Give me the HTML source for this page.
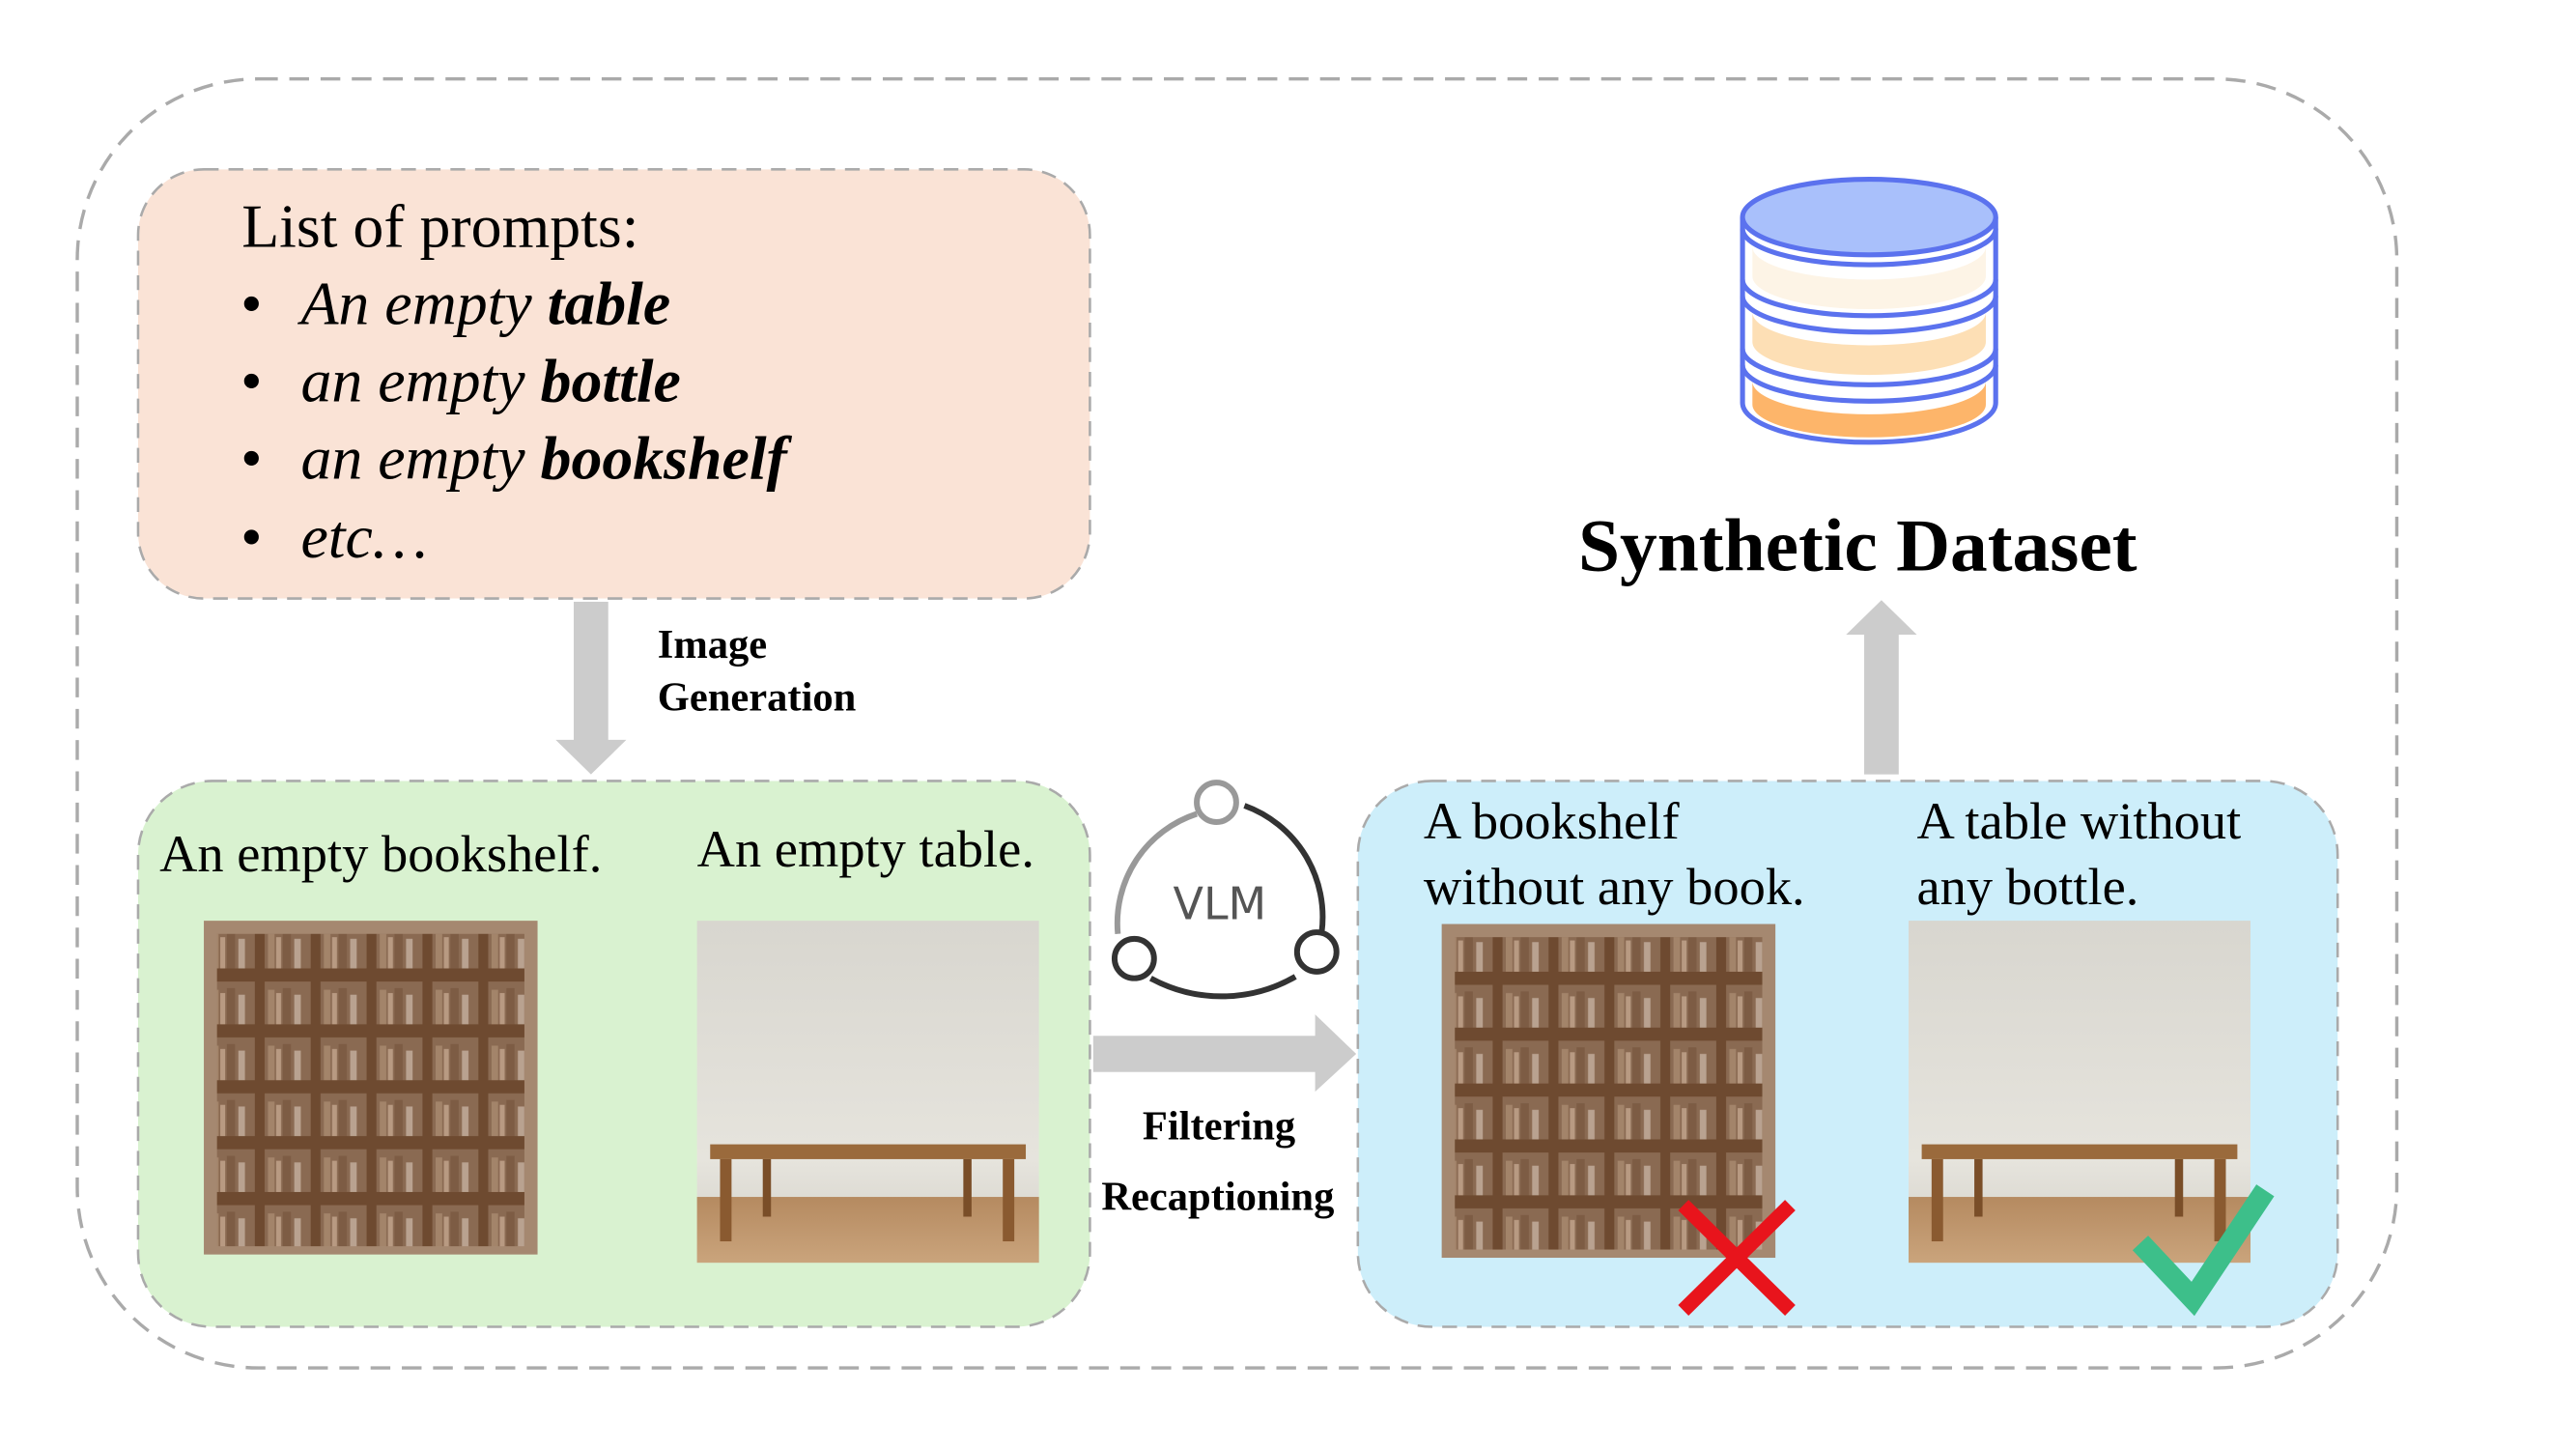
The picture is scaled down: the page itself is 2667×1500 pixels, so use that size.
<!DOCTYPE html>
<html><head><meta charset="utf-8"><style>html,body{margin:0;padding:0;background:#fff}svg{display:block}</style></head>
<body>
<svg width="2667" height="1500" viewBox="0 0 1567 881.3" xmlns="http://www.w3.org/2000/svg">
<defs>
<linearGradient id="wall" x1="0" y1="0" x2="0" y2="1"><stop offset="0" stop-color="#d8d6cf"/><stop offset="0.7" stop-color="#e6e4dd"/><stop offset="1" stop-color="#d0cdc5"/></linearGradient>
<linearGradient id="floor" x1="0" y1="0" x2="0" y2="1"><stop offset="0" stop-color="#b58a60"/><stop offset="1" stop-color="#caa47c"/></linearGradient>
<pattern id="shelf" width="34" height="34" patternUnits="userSpaceOnUse">
<rect width="34" height="34" fill="#6e4a30"/>
<rect x="3" y="3" width="28" height="26" fill="#8a6a52"/>
<rect x="5" y="8" width="4" height="21" fill="#a3846a"/><rect x="10" y="10" width="3" height="19" fill="#b89a82"/><rect x="14" y="7" width="5" height="22" fill="#7d5c44"/><rect x="21" y="11" width="4" height="18" fill="#b9a290"/>
</pattern>
<g id="table">
<rect x="0" y="0" width="208" height="208" fill="url(#wall)"/>
<rect x="0" y="168" width="208" height="40" fill="url(#floor)"/>
<rect x="8" y="136" width="192" height="9" fill="#9a6a3c"/>
<rect x="14" y="145" width="7" height="50" fill="#8a5a30"/><rect x="186" y="145" width="7" height="50" fill="#8a5a30"/>
<rect x="40" y="145" width="5" height="35" fill="#7a4e28"/><rect x="162" y="145" width="5" height="35" fill="#7a4e28"/>
</g>
<g id="books">
<rect x="0" y="0" width="203" height="203" fill="#a58870"/>
<rect x="8" y="8" width="187" height="190" fill="url(#shelf)"/>
</g>
</defs>
<rect x="47" y="48" width="1411" height="784" rx="110" fill="none" stroke="#aaa" stroke-width="2" stroke-dasharray="12,7"/>
<rect x="84" y="103" width="579" height="261" rx="40" fill="#fae3d6" stroke="#aaa" stroke-width="1.5" stroke-dasharray="9,6"/>
<rect x="84" y="475" width="579" height="332" rx="45" fill="#d9f2d0" stroke="#aaa" stroke-width="1.5" stroke-dasharray="9,6"/>
<rect x="826" y="475" width="596" height="332" rx="45" fill="#cdeefa" stroke="#aaa" stroke-width="1.5" stroke-dasharray="9,6"/>
<g font-family="Liberation Serif, serif" fill="#000">
<text x="147" y="150" font-size="37.5">List of prompts:</text>
<g font-size="37.5" font-style="italic">
<text x="146" y="197">•</text><text x="183" y="197">An empty <tspan font-weight="bold">table</tspan></text>
<text x="146" y="244">•</text><text x="183" y="244">an empty <tspan font-weight="bold">bottle</tspan></text>
<text x="146" y="291">•</text><text x="183" y="291">an empty <tspan font-weight="bold">bookshelf</tspan></text>
<text x="146" y="339">•</text><text x="183" y="339">etc…</text>
</g>
<g font-size="25" font-weight="bold">
<text x="400" y="400">Image</text><text x="400" y="432">Generation</text>
<text x="695" y="693">Filtering</text><text x="670" y="736">Recaptioning</text>
</g>
<g font-size="32">
<text x="97" y="530">An empty bookshelf.</text>
<text x="424" y="527">An empty table.</text>
<text x="866" y="510">A bookshelf</text><text x="866" y="550">without any book.</text>
<text x="1166" y="510">A table without</text><text x="1166" y="550">any bottle.</text>
</g>
<text x="1130" y="347" font-size="45.5" font-weight="bold" text-anchor="middle">Synthetic Dataset</text>
</g>
<g fill="#cccccc">
<rect x="349" y="366" width="21" height="86"/><polygon points="338,450 381,450 359.5,471"/>
<rect x="665" y="630" width="137" height="22"/><polygon points="800,617 825,641 800,664"/>
<rect x="1134" y="385" width="21" height="86"/><polygon points="1123,386 1166,386 1144.5,365"/>
</g>
<use href="#books" x="124" y="560"/>
<use href="#table" x="424" y="560"/>
<use href="#books" x="877" y="562"/>
<use href="#table" x="1161" y="560"/>
<g stroke="#e8141c" stroke-width="9"><line x1="1024" y1="733" x2="1089" y2="797"/><line x1="1089" y1="733" x2="1024" y2="797"/></g>
<polyline points="1302,756 1334,790 1378,724" fill="none" stroke="#3dbf8a" stroke-width="13"/>
<g fill="none" stroke-width="3.5">
<path d="M728,495 A70,70 0 0 0 680,568" stroke="#999"/>
<path d="M757,490 A72,72 0 0 1 804,567" stroke="#333"/>
<path d="M700,595 A90,90 0 0 0 788,594" stroke="#333"/>
<circle cx="740" cy="488" r="12" stroke="#999"/>
<circle cx="690" cy="583" r="12" stroke="#333"/>
<circle cx="801" cy="579" r="12" stroke="#333"/>
</g>
<text x="742" y="559" font-family="DejaVu Sans, sans-serif" font-size="27" fill="#555" text-anchor="middle">VLM</text>
<g stroke="#5b72ee" stroke-width="3">
<path d="M1060,132 V245 A77,24 0 0 0 1214,245 V132" fill="#fff"/>
<path d="M1066,150 A71,20 0 0 0 1208,150 V168 A71,20 0 0 1 1066,168 Z" fill="#fdf4e6" stroke="none"/>
<path d="M1066,190 A71,20 0 0 0 1208,190 V208 A71,20 0 0 1 1066,208 Z" fill="#fddfb5" stroke="none"/>
<path d="M1066,232 A71,20 0 0 0 1208,232 V246 A71,20 0 0 1 1066,246 Z" fill="#fdb56a" stroke="none"/>
<path d="M1060,139 A77,22 0 0 0 1214,139" fill="none"/>
<path d="M1060,170 A77,22 0 0 0 1214,170" fill="none"/>
<path d="M1060,180 A77,22 0 0 0 1214,180" fill="none"/>
<path d="M1060,212 A77,22 0 0 0 1214,212" fill="none"/>
<path d="M1060,222 A77,22 0 0 0 1214,222" fill="none"/>
<ellipse cx="1137" cy="132" rx="77" ry="23" fill="#a9c0fb"/>
</g>
</svg>
</body></html>
